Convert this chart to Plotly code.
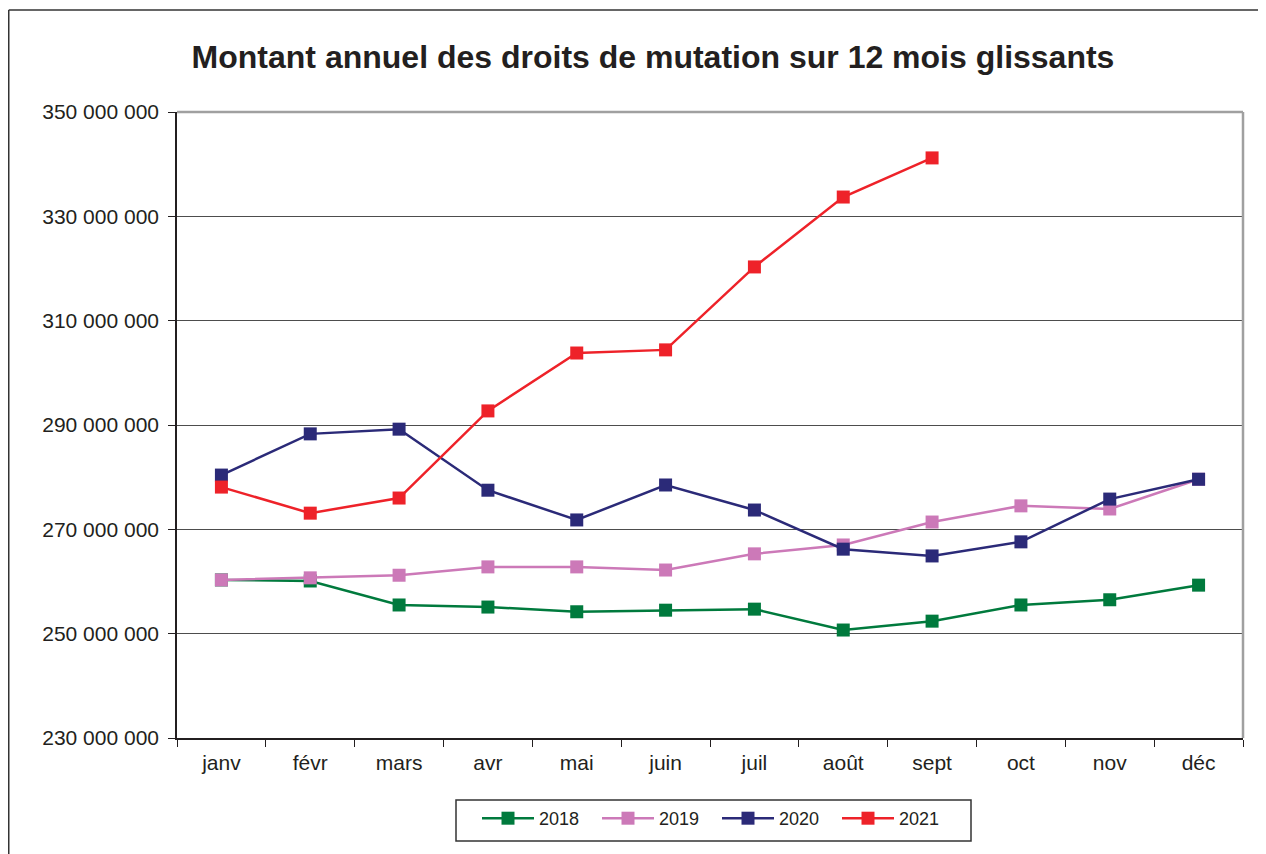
import plotly.graph_objects as go

months = ["janv", "févr", "mars", "avr", "mai", "juin", "juil", "août", "sept", "oct", "nov", "déc"]

v2018 = [260.3, 260.1, 255.5, 255.1, 254.2, 254.5, 254.7, 250.7, 252.4, 255.5, 256.5, 259.3]
v2019 = [260.3, 260.7, 261.2, 262.8, 262.8, 262.2, 265.3, 267.0, 271.4, 274.5, 273.9, 279.6]
v2020 = [280.4, 288.3, 289.2, 277.5, 271.8, 278.5, 273.7, 266.2, 264.9, 267.6, 275.8, 279.6]
v2021 = [278.1, 273.1, 276.0, 292.7, 303.8, 304.4, 320.3, 333.7, 341.2]

tick_vals = [230, 250, 270, 290, 310, 330, 350]
tick_text = ["230 000 000", "250 000 000", "270 000 000", "290 000 000",
             "310 000 000", "330 000 000", "350 000 000"]

series = [
    ("2018", v2018, "#007A3D"),
    ("2019", v2019, "#CC79B8"),
    ("2020", v2020, "#2B2A78"),
    ("2021", v2021, "#EE2229"),
]

fig = go.Figure()
for name, vals, col in series:
    fig.add_trace(go.Scatter(
        x=months[:len(vals)], y=[v * 1e6 for v in vals], name=name,
        mode="lines+markers",
        line=dict(color=col, width=2.5),
        marker=dict(symbol="square", size=13, color=col),
    ))

FONT = "Liberation Sans, Arial, sans-serif"
# page body has an 8px margin: figure spans 8..1266 x 8..854
OFF = 8
W, H = 1258, 846
L, T = 169, 104
R, B = 23, 116
PW = W - L - R
PH = H - T - B


def px(xpage):
    return (xpage - OFF - L) / PW


def py(ypage):
    return 1 - (ypage - OFF - T) / PH


fig.update_layout(
    width=W, height=H,
    margin=dict(l=L, r=R, t=T, b=B),
    paper_bgcolor="white", plot_bgcolor="white",
    font=dict(family=FONT, size=21, color="#231F20"),
    title=dict(text="<b>Montant annuel des droits de mutation sur 12 mois glissants</b>",
               x=645 / W, xanchor="center", y=1 - 49 / H, yanchor="middle",
               font=dict(family=FONT, size=32, color="#231F20")),
    showlegend=True,
    legend=dict(orientation="h", x=px(477), xanchor="left",
                y=py(800), yanchor="top",
                borderwidth=0, bgcolor="rgba(0,0,0,0)",
                font=dict(family=FONT, size=18, color="#231F20"),
                entrywidth=53, entrywidthmode="pixels", itemwidth=52),
    xaxis=dict(type="category", categoryorder="array", categoryarray=months,
               range=[-0.5, 11.5], showgrid=False, showline=True, linecolor="#231F20",
               linewidth=1.5, ticks="outside", tickson="boundaries", ticklen=7,
               tickcolor="#231F20", tickwidth=1.2, zeroline=False, ticklabelstandoff=5,
               tickfont=dict(family=FONT, size=21, color="#231F20")),
    yaxis=dict(range=[230e6, 350e6], tickvals=[t * 1e6 for t in tick_vals], ticktext=tick_text,
               showgrid=True, gridcolor="#4D4D4D", gridwidth=1.2,
               showline=True, linecolor="#231F20", linewidth=1.5,
               ticks="outside", ticklen=7, tickcolor="#231F20", tickwidth=1.2,
               ticklabelstandoff=5, zeroline=False,
               tickfont=dict(family=FONT, size=21, color="#231F20")),
)

# plot-area top/right border (gray)
fig.add_shape(type="line", xref="paper", yref="paper", x0=0, x1=1, y0=1, y1=1,
              line=dict(color="#A0A0A0", width=2.5))
fig.add_shape(type="line", xref="paper", yref="paper", x0=1, x1=1, y0=0, y1=1,
              line=dict(color="#A0A0A0", width=2.5))
# legend box
fig.add_shape(type="rect", xref="paper", yref="paper",
              x0=px(456), x1=px(971), y0=py(800), y1=py(841),
              line=dict(color="#333333", width=1.5), layer="below")
# outer chart border (top and left)
bx = px(OFF + 0.75)
by = py(10)
fig.add_shape(type="line", xref="paper", yref="paper",
              x0=bx, x1=1.3, y0=by, y1=by,
              line=dict(color="#333333", width=1.5))
fig.add_shape(type="line", xref="paper", yref="paper",
              x0=bx, x1=bx, y0=by, y1=-0.3,
              line=dict(color="#333333", width=1.5))

fig.write_html("out.html")
